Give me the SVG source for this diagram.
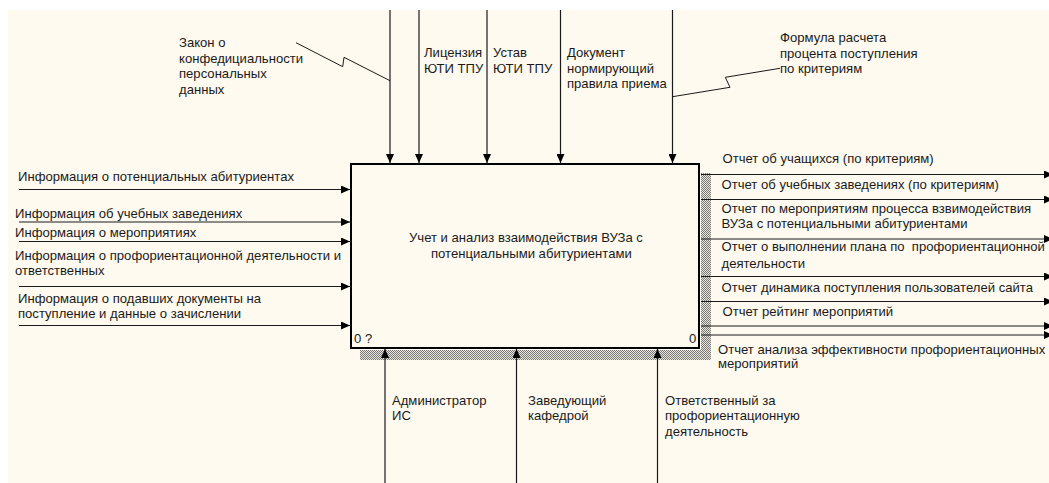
<svg xmlns="http://www.w3.org/2000/svg" width="1049" height="483" viewBox="0 0 1049 483">
<defs>
<style>
text{font-family:"Liberation Sans",Arial,sans-serif;font-size:13.1px;fill:#1a1a1a;white-space:pre}
.a{stroke:#1a1a1a;stroke-width:1.2;fill:none}
.s{stroke:#1a1a1a;stroke-width:1;fill:none}
</style>
<marker id="ah" markerWidth="9" markerHeight="8" refX="9" refY="4" orient="auto" markerUnits="userSpaceOnUse">
<path d="M0,0 L9,4 L0,8 Z" fill="#000"/>
</marker>
<pattern id="hatch" width="2" height="2" patternUnits="userSpaceOnUse">
<rect width="2" height="2" fill="#e8e4dc"/>
<rect width="1" height="1" fill="#7a7a7a"/>
<rect x="1" y="1" width="1" height="1" fill="#7a7a7a"/>
</pattern>
</defs>
<rect x="0" y="0" width="1049" height="483" fill="#fff"/>
<rect x="8" y="10" width="1041" height="473" fill="#fffaf0"/>

<g id="box">
<rect x="701" y="173" width="10" height="187" fill="url(#hatch)"/>
<rect x="360" y="350" width="351" height="10" fill="url(#hatch)"/>
<rect x="351" y="164" width="348" height="184" fill="#fffaf0" stroke="#000" stroke-width="2"/>
<text x="409" y="241.5">Учет и анализ взаимодействия ВУЗа с</text>
<text x="431" y="258">потенциальными абитуриентами</text>
<text x="354" y="342.5">0 ?</text>
<text x="689" y="342.5">0</text>
</g>

<g id="connectors">
<line class="a" x1="390" y1="10" x2="390" y2="163" marker-end="url(#ah)"/>
<line class="a" x1="419" y1="10" x2="419" y2="163" marker-end="url(#ah)"/>
<line class="a" x1="487" y1="10" x2="487" y2="163" marker-end="url(#ah)"/>
<line class="a" x1="560.5" y1="10" x2="560.5" y2="163" marker-end="url(#ah)"/>
<line class="a" x1="672.5" y1="10" x2="672.5" y2="163" marker-end="url(#ah)"/>
<polyline class="s" points="296,42.7 342.7,66.7 344,57.3 390,80.7"/>
<polyline class="s" points="672.5,96.7 730,87.3 725.3,77.3 780,68.3"/>
<line class="a" x1="19" y1="189.5" x2="350" y2="189.5" marker-end="url(#ah)"/>
<line class="a" x1="19" y1="222" x2="350" y2="222" marker-end="url(#ah)"/>
<line class="a" x1="19" y1="241.5" x2="350" y2="241.5" marker-end="url(#ah)"/>
<line class="a" x1="19" y1="286.5" x2="350" y2="286.5" marker-end="url(#ah)"/>
<line class="a" x1="19" y1="325.5" x2="350" y2="325.5" marker-end="url(#ah)"/>
<line class="a" x1="701" y1="174.5" x2="1053" y2="174.5" marker-end="url(#ah)"/>
<line class="a" x1="701" y1="199.5" x2="1053" y2="199.5" marker-end="url(#ah)"/>
<line class="a" x1="701" y1="239" x2="1053" y2="239" marker-end="url(#ah)"/>
<line class="a" x1="701" y1="276.5" x2="1053" y2="276.5" marker-end="url(#ah)"/>
<line class="a" x1="701" y1="301.5" x2="1053" y2="301.5" marker-end="url(#ah)"/>
<line class="a" x1="701" y1="326" x2="1053" y2="326" marker-end="url(#ah)"/>
<line class="a" x1="701" y1="335" x2="1053" y2="335" marker-end="url(#ah)"/>
<line class="a" x1="385" y1="483" x2="385" y2="349" marker-end="url(#ah)"/>
<line class="a" x1="516.5" y1="483" x2="516.5" y2="349" marker-end="url(#ah)"/>
<line class="a" x1="657.5" y1="483" x2="657.5" y2="349" marker-end="url(#ah)"/>
</g>

<g id="labels-controls">
<text x="179" y="47">Закон о</text>
<text x="179" y="62.5">конфедициальности</text>
<text x="179" y="78">персональных</text>
<text x="179" y="93.5">данных</text>
<text x="424" y="57">Лицензия</text>
<text x="424" y="72.5">ЮТИ ТПУ</text>
<text x="493" y="57">Устав</text>
<text x="493" y="72.5">ЮТИ ТПУ</text>
<text x="567" y="57">Документ</text>
<text x="567" y="72.5">нормирующий</text>
<text x="567" y="88">правила приема</text>
<text x="780" y="42">Формула расчета</text>
<text x="780" y="57.5">процента поступления</text>
<text x="780" y="72.5">по критериям</text>
</g>

<g id="labels-inputs">
<text x="18" y="181">Информация о потенциальных абитуриентах</text>
<text x="15" y="217.5">Информация об учебных заведениях</text>
<text x="15" y="237">Информация о мероприятиях</text>
<text x="15" y="259.5">Информация о профориентационной деятельности и</text>
<text x="15" y="274.5">ответственных</text>
<text x="18" y="302.5">Информация о подавших документы на</text>
<text x="18" y="318">поступление и данные о зачислении</text>
</g>

<g id="labels-outputs">
<text x="722.5" y="162.5">Отчет об учащихся (по критериям)</text>
<text x="721.5" y="188.5">Отчет об учебных заведениях (по критериям)</text>
<text x="721.5" y="212.5">Отчет по мероприятиям процесса взвимодействия</text>
<text x="721.5" y="227.5">ВУЗа с потенциальными абитуриентами</text>
<text x="721.5" y="251">Отчет о выполнении плана по  профориентационной</text>
<text x="721.5" y="267.5">деятельности</text>
<text x="721.5" y="291.5">Отчет динамика поступления пользователей сайта</text>
<text x="722.5" y="315.5">Отчет рейтинг мероприятий</text>
<text x="718" y="353.5">Отчет анализа эффективности профориентационных</text>
<text x="718" y="368">мероприятий</text>
</g>

<g id="labels-mechanisms">
<text x="392" y="404.5">Администратор</text>
<text x="392" y="420">ИС</text>
<text x="528" y="404.5">Заведующий</text>
<text x="528" y="420">кафедрой</text>
<text x="665" y="404.5">Ответственный за</text>
<text x="665" y="420">профориентационную</text>
<text x="665" y="435.5">деятельность</text>
</g>
</svg>
